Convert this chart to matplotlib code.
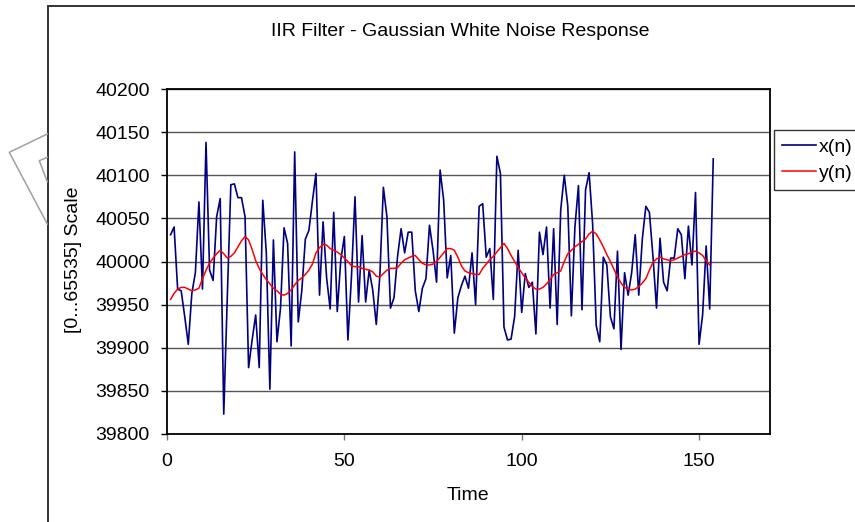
import matplotlib.pyplot as plt
from matplotlib.lines import Line2D
from matplotlib.patches import Rectangle

plt.rcParams['font.family'] = ['Liberation Sans', 'DejaVu Sans']

# input noise x(n), n = 1..154
x_n = [40031, 40040, 39968, 39966, 39936, 39904, 39963, 39987, 40069, 39968,
       40138, 39990, 39978, 40052, 40073, 39823, 39959, 40089, 40090, 40074,
       40074, 40052, 39877, 39909, 39938, 39877, 40071, 40010, 39852, 40025,
       39907, 39946, 40039, 40021, 39902, 40127, 39930, 39966, 40026, 40036,
       40070, 40102, 39961, 40046, 39981, 39945, 40057, 39942, 40002, 40029,
       39909, 39982, 40075, 39953, 40030, 39953, 39990, 39967, 39927, 39983,
       40086, 40052, 39946, 39958, 40006, 40038, 40010, 40034, 40034, 39966,
       39942, 39969, 39980, 40042, 40013, 39976, 40106, 40071, 39981, 40007,
       39917, 39958, 39972, 39983, 39969, 40010, 39950, 40064, 40067, 40005,
       40015, 39956, 40122, 40102, 39924, 39909, 39910, 39936, 40013, 39941,
       39986, 39970, 39976, 39916, 40034, 40008, 40040, 39946, 40038, 39927,
       40060, 40100, 40064, 39937, 40040, 40088, 39944, 40083, 40103, 40043,
       39926, 39907, 40005, 39996, 39936, 39922, 40012, 39898, 39987, 39961,
       39987, 40031, 39961, 40026, 40064, 40057, 40006, 39946, 40027, 39976,
       39966, 40004, 40004, 40038, 40031, 39980, 40041, 39996, 40080, 39904,
       39938, 40018, 39945, 40119]

# filtered output y(n), n = 1..153
y_n = [39956, 39963, 39968, 39970, 39970, 39968, 39966, 39967, 39969, 39980,
       39990, 39998, 40004, 40009, 40013, 40009, 40004, 40006, 40010, 40017,
       40024, 40029, 40025, 40014, 40001, 39992, 39985, 39979, 39974, 39969,
       39966, 39962, 39961, 39963, 39967, 39973, 39978, 39981, 39985, 39990,
       39997, 40010, 40016, 40020, 40019, 40015, 40013, 40011, 40008, 40004,
       40000, 39995, 39994, 39994, 39992, 39991, 39990, 39988, 39983, 39982,
       39986, 39990, 39992, 39992, 39993, 39998, 40002, 40004, 40006, 40007,
       40002, 39998, 39996, 39996, 39997, 40000, 40005, 40010, 40015, 40015,
       40013, 40005, 39995, 39989, 39987, 39986, 39985, 39985, 39992, 39997,
       40002, 40006, 40011, 40016, 40021, 40015, 40007, 40000, 39993, 39987,
       39981, 39976, 39971, 39968, 39968, 39970, 39974, 39979, 39985, 39987,
       39989, 40000, 40009, 40013, 40017, 40020, 40023, 40026, 40032, 40035,
       40032, 40025, 40017, 40008, 40000, 39991, 39982, 39975, 39970, 39968,
       39967, 39968, 39971, 39975, 39980, 39990, 39999, 40003, 40005, 40003,
       40002, 40001, 40002, 40004, 40006, 40008, 40009, 40011, 40012, 40010,
       40007, 40001, 39996]

t_x = list(range(1, len(x_n) + 1))
t_y = list(range(1, len(y_n) + 1))

x_ticks = [0, 50, 100, 150]
y_ticks = list(range(39800, 40201, 50))

W, H = 855, 522
FS = 14
fig = plt.figure(figsize=(W / 100, H / 100), dpi=100)

# faint gray outline sticking out on the left, behind the chart
fig.add_artist(Line2D([47.3 / W, 9.3 / W, 47.3 / W],
                      [1 - 134 / H, 1 - 152.3 / H, 1 - 224 / H],
                      color='#a0a0a0', lw=1.1))
fig.add_artist(Line2D([47.3 / W, 39.3 / W, 47.3 / W],
                      [1 - 157.3 / H, 1 - 160.7 / H, 1 - 181.7 / H],
                      color='#a0a0a0', lw=1.1))
# chart frame
fig.add_artist(Rectangle((47.5 / W, -0.1), 1.2, 1.1 - 6 / H,
                         transform=fig.transFigure, fill=False,
                         edgecolor='#333333', lw=1.4))

ax = fig.add_axes([167 / W, 1 - 434 / H, 603 / W, 345 / H])
ax.plot(t_x, x_n, color='#000080', lw=1.2, label='x(n)')
ax.plot(t_y, y_n, color='#ff0000', lw=1.1, label='y(n)')

ax.set_xlim(0, 170)
ax.set_ylim(39800, 40200)
ax.set_xticks(x_ticks)
ax.set_yticks(y_ticks)
ax.yaxis.grid(True, color='#555555', lw=1.0)
ax.set_axisbelow(True)
for s in ax.spines.values():
    s.set_color('black')
    s.set_linewidth(1.3)
ax.tick_params(axis='y', direction='out', length=4.5, width=1, pad=8, labelsize=FS)
ax.tick_params(axis='x', direction='out', length=4.5, width=1, color='#777777',
               pad=9, labelsize=FS)

fig.text(460 / W, 1 - 32 / H, 'IIR Filter - Gaussian White Noise Response',
         ha='center', va='center', fontsize=FS)
fig.text(468 / W, 1 - 495 / H, 'Time', ha='center', va='center', fontsize=FS)
fig.text(73 / W, 1 - 260 / H, '[0...65535] Scale', ha='center', va='center',
         rotation=90, fontsize=FS)

leg = fig.legend(loc='upper left', bbox_to_anchor=(774 / W, 1 - 130 / H),
                 fontsize=FS, frameon=True, fancybox=False, borderaxespad=0,
                 handlelength=1.75, handletextpad=0.12, labelspacing=0.45,
                 borderpad=0.42)
leg.get_frame().set_edgecolor('black')
leg.get_frame().set_linewidth(1.0)

fig.savefig('out.png', dpi=100)
